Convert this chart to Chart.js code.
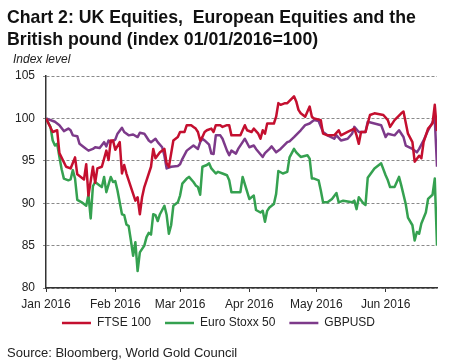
<!DOCTYPE html>
<html>
<head>
<meta charset="utf-8">
<script src="https://cdn.jsdelivr.net/npm/chart.js@4.4.1/dist/chart.umd.min.js"></script>
<style>
  body { margin: 0; background: #fff; font-family: "Liberation Sans", Arial, sans-serif; }
  #wrap { position: relative; width: 455px; height: 361px; overflow: hidden; }
  #title { position: absolute; left: 7px; top: 7px; font-weight: bold; font-size: 17.7px; line-height: 21.7px; color: #111; white-space: pre; }
  #unit { position: absolute; left: 13px; top: 52px; font-style: italic; font-size: 12px; color: #222; }
  #source { position: absolute; left: 7px; top: 345px; font-size: 13px; color: #222; }
  canvas { position: absolute; left: 0; top: 0; }
</style>
</head>
<body>
<div id="wrap">
  <canvas id="chart" width="455" height="361"></canvas>
  <div id="title">Chart 2: UK Equities,  European Equities and the
British pound (index 01/01/2016=100)</div>
  <div id="unit">Index level</div>
  <div id="source">Source: Bloomberg, World Gold Council</div>
</div>
<script>
// days since 1 Jan 2016
const monthTicks = [0, 31, 60, 91, 121, 152];
const monthLabels = ['Jan 2016', 'Feb 2016', 'Mar 2016', 'Apr 2016', 'May 2016', 'Jun 2016'];

const ftseDays = [0,3,5,6,9,11,13,14,17,18,19,21,22,23,25,27,28,29,30,31,33,34,35,36,37,39,40,41,42,43,44,45,47,48,49,51,53,54,55,57,58,59,60,62,63,65,66,67,68,69,70,71,72,74,75,76,78,79,81,82,83,87,89,90,92,93,95,96,97,98,99,102,103,104,105,107,108,111,112,113,114,116,118,119,120,123,124,126,129,131,132,135,138,139,140,141,143,145,147,151,153,154,156,159,160,162,164,165,167,168,169,171,173,174,175];
const ftseVals = [100,98.4,98.6,95.9,94.3,94.1,95.4,93.4,92.8,94.6,90.9,94.3,92.4,94.1,94.3,96.2,95.1,97.4,97.4,96.3,97.2,93.5,94.5,93.5,92.7,91.1,90.3,90.7,88.7,90.7,91.9,92.7,94.3,96.4,95.3,96.0,96.4,94.7,94.3,97.4,97.6,97.8,98.4,98.4,99.2,99.2,99.0,98.8,98.4,97.4,97.8,98.4,98.6,98.8,98.4,99.2,99.2,99.0,99.2,99.2,98.0,98.0,99.2,98.6,98.4,98.8,98.2,97.6,98.6,98.2,99.4,99.4,100.2,101.8,101.6,101.8,101.8,102.6,102.0,101.0,100.6,100.2,101.4,100.2,100.0,99.8,98.2,98.0,98.0,98.6,98.0,98.4,98.8,98.0,97.0,98.4,98.4,100.4,100.6,100.4,99.8,99.0,99.8,100.6,100.8,98.2,97.2,94.9,95.6,95.3,97.2,98.8,99.4,101.6,98.5];

const eurDays = [0,2,3,4,5,6,7,8,10,11,12,13,14,16,17,18,19,20,21,22,24,25,26,27,29,30,31,32,34,35,36,37,38,39,40,41,42,44,45,46,47,48,49,50,51,53,54,55,56,57,59,60,61,63,64,66,67,68,69,70,72,73,74,76,77,79,81,82,83,87,88,91,92,93,94,96,97,98,99,100,102,103,104,106,108,109,111,112,114,117,118,119,120,122,123,124,126,128,130,131,133,135,137,138,139,140,142,143,144,147,149,150,152,153,154,156,158,159,161,162,164,165,166,167,168,170,171,173,174,175];
const eurVals = [100,99.0,97.4,96.8,97.0,95.45,94.0,92.9,92.7,92.8,93.9,92.9,90.4,90.1,89.9,89.7,91.0,88.2,92.0,92.5,92.1,91.9,93.1,91.3,93.1,92.5,92.6,91.5,88.7,88.6,87.5,87.3,85.6,83.8,85.4,82.0,84.2,85.0,86.0,86.5,86.3,88.7,88.6,87.9,88.7,89.7,88.6,86.4,87.4,89.7,90.1,90.9,92.3,92.9,93.1,92.5,92.1,91.9,91.0,94.3,94.5,94.7,94.1,93.5,93.7,93.5,93.3,92.7,91.3,91.3,93.1,90.5,90.7,90.9,89.2,88.9,89.1,87.8,89.1,89.5,89.9,91.1,93.8,93.5,93.7,95.4,96.4,96.0,95.45,95.65,95.25,92.9,92.9,92.7,91.5,90.1,90.1,90.5,91.2,90.1,90.3,90.2,90.1,90.3,89.3,90.7,90.0,89.8,93.0,94.1,94.5,94.7,93.3,92.7,91.9,91.9,93.1,92.1,89.9,88.3,87.4,85.6,86.6,86.4,87.6,88.9,90.5,91.0,92.9,85.0];

const gbpDays = [0,4,6,8,10,11,12,14,15,17,19,21,22,24,26,27,28,29,31,32,34,35,37,39,41,42,44,45,46,47,49,50,52,53,54,56,59,60,61,63,66,68,69,70,71,73,74,75,76,78,79,81,82,83,85,86,88,89,91,93,94,97,98,100,101,103,105,108,109,111,114,116,118,120,122,124,126,129,130,132,135,137,138,140,143,144,147,150,152,153,156,158,160,161,164,166,167,169,171,174,175];
const gbpVals = [100,99.6,99.2,98.5,98.8,98.6,98.0,97.9,97.0,96.6,96.2,96.4,96.6,96.5,97.2,96.7,97.4,97.2,97.5,98.2,98.9,98.4,98.0,98.1,97.8,98.3,98.2,97.8,97.4,97.2,97.6,97.2,96.6,95.6,94.1,94.3,94.4,94.6,95.2,96.2,96.8,96.4,97.2,97.6,97.4,96.9,95.85,95.8,98.0,98.0,97.6,96.2,95.65,96.2,95.85,96.4,97.2,97.6,96.6,96.8,96.4,95.45,95.9,96.4,96.7,96.0,96.4,97.2,97.3,97.8,98.6,99.2,99.4,99.8,99.7,98.4,98.0,97.6,98.0,97.4,97.6,98.2,99.0,98.4,98.4,99.6,99.4,99.2,97.8,98.2,98.0,98.6,97.8,96.8,96.4,96.0,96.4,97.4,98.6,100.0,94.3];

function pts(days, vals) {
  return days.map((d, i) => ({ x: d, y: vals[i] }));
}

const lineStyle = { borderWidth: 2.5, pointRadius: 0, tension: 0, fill: false, borderJoinStyle: 'round' };

// legend padding also spaces the items apart, so nudge the legend up a bit after layout
const legendNudge = {
  id: 'legendNudge',
  afterLayout(chart) {
    chart.legend.top -= 9;
    chart.legend.bottom -= 9;
  }
};

new Chart(document.getElementById('chart'), {
  type: 'line',
  data: {
    datasets: [
      Object.assign({ label: 'FTSE 100', data: pts(ftseDays, ftseVals), borderColor: '#c40f2f', backgroundColor: '#c40f2f' }, lineStyle),
      Object.assign({ label: 'Euro Stoxx 50', data: pts(eurDays, eurVals), borderColor: '#35a150', backgroundColor: '#35a150' }, lineStyle),
      Object.assign({ label: 'GBPUSD', data: pts(gbpDays, gbpVals), borderColor: '#7d3a8a', backgroundColor: '#7d3a8a' }, lineStyle)
    ]
  },
  plugins: [legendNudge],
  options: {
    responsive: false,
    animation: false,
    layout: { padding: { top: 76, right: 18, left: 0, bottom: 13 } },
    plugins: {
      title: { display: false },
      tooltip: { enabled: false },
      legend: {
        position: 'bottom',
        labels: {
          usePointStyle: true,
          pointStyle: 'line',
          pointStyleWidth: 29,
          padding: 14,
          color: '#222',
          font: { family: 'Liberation Sans', size: 12 }
        }
      }
    },
    scales: {
      x: {
        type: 'linear',
        min: 0,
        max: 175,
        afterBuildTicks: s => { s.ticks = monthTicks.map(v => ({ value: v })); },
        afterFit: s => { s.height = 24; },
        ticks: {
          autoSkip: false,
          maxRotation: 0,
          padding: 5,
          color: '#222',
          font: { family: 'Liberation Sans', size: 12 },
          callback: v => monthLabels[monthTicks.indexOf(v)]
        },
        grid: { drawOnChartArea: false, drawTicks: true, tickLength: 4, color: '#333', lineWidth: 1 },
        border: { color: '#333', width: 1.5 }
      },
      y: {
        min: 80,
        max: 105,
        afterFit: s => { s.width = 46; },
        ticks: {
          stepSize: 5,
          padding: 8,
          color: '#222',
          font: { family: 'Liberation Sans', size: 12 }
        },
        grid: { color: '#8a8a8a', lineWidth: 1, tickLength: 3 },
        border: { color: '#333', width: 1.5, dash: [3, 2] }
      }
    }
  }
});
</script>
</body>
</html>
